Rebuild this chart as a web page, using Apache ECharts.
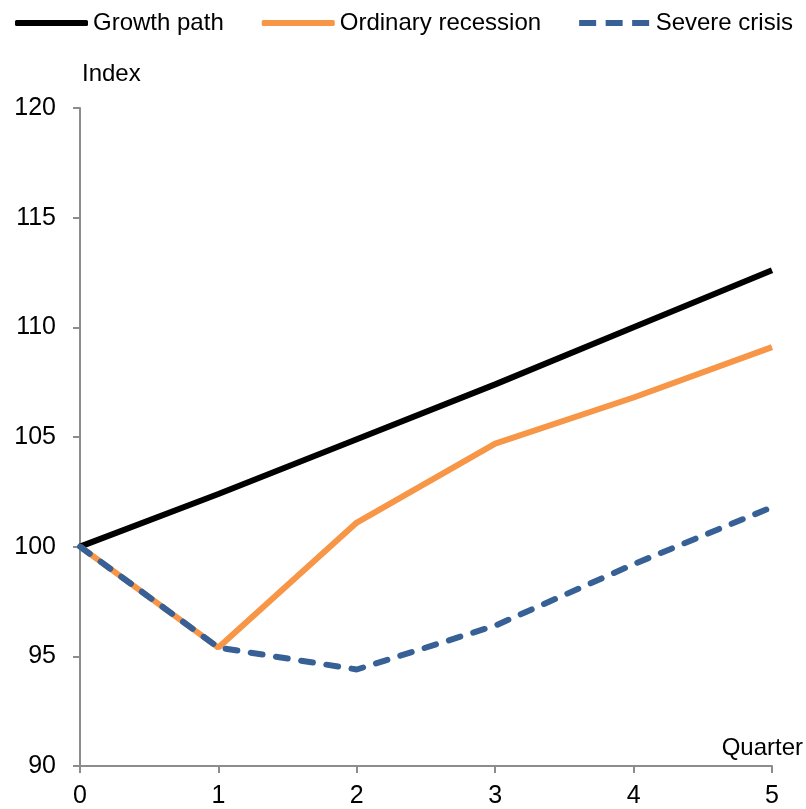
<!DOCTYPE html>
<html>
<head>
<meta charset="utf-8">
<script src="https://cdn.jsdelivr.net/npm/echarts@6/dist/echarts.min.js"></script>
<style>
  html, body { margin: 0; padding: 0; background: #fff; }
  #chart { width: 806px; height: 809px; }
</style>
</head>
<body>
<div id="chart"></div>
<script>
const quarters = [0, 1, 2, 3, 4, 5];
const growthPath = [100, 102.4, 104.9, 107.4, 110.0, 112.6];
const ordinaryRecession = [100, 95.4, 101.1, 104.7, 106.8, 109.1];
const severeCrisis = [100, 95.4, 94.4, 96.4, 99.2, 101.8];
const seriesNames = ["Growth path", "Ordinary recession", "Severe crisis"];

const font = "Liberation Sans";
const axisGray = "#8c8c8c";

function pairs(values) {
  return quarters.map((q, i) => [q, values[i]]);
}

let chart = echarts.init(document.getElementById("chart"));

//图例的图标：实线和虚线
const solidIcon = "roundRect";
const dashedIcon = "path://M0,0h17v6h-17z M26.5,0h17v6h-17z M53,0h17v6h-17z";

let option = {
  animation: false,
  legend: {
    top: 6,
    left: 10,
    itemWidth: 73,
    itemHeight: 6,
    itemGap: 38,
    textStyle: { fontFamily: font, fontSize: 24, color: "#000" },
    data: [
      { name: seriesNames[0], icon: solidIcon },
      { name: seriesNames[1], icon: solidIcon },
      { name: seriesNames[2], icon: dashedIcon },
    ],
  },
  grid: { left: 80, right: 34, top: 108, bottom: 43 },
  // axis titles
  graphic: [
    { type: "text", left: 82, top: 62, style: { text: "Index", font: "24px " + font, fill: "#000" } },
    { type: "text", right: 3, top: 736, style: { text: "Quarter", font: "24px " + font, fill: "#000" } },
  ],
  xAxis: {
    type: "value",
    min: 0,
    max: 5,
    interval: 1,
    axisLine: { show: true, lineStyle: { color: axisGray, width: 2 } },
    axisTick: { show: true, length: 7, lineStyle: { color: axisGray, width: 2 } },
    axisLabel: { fontFamily: font, fontSize: 25, color: "#000", margin: 18 },
    splitLine: { show: false },
  },
  yAxis: {
    type: "value",
    min: 90,
    max: 120,
    interval: 5,
    axisLine: { show: true, lineStyle: { color: axisGray, width: 2 } },
    axisTick: { show: true, length: 7, lineStyle: { color: axisGray, width: 2 } },
    axisLabel: { fontFamily: font, fontSize: 25, color: "#000", margin: 24 },
    splitLine: { show: false },
  },
  series: [
    {
      name: seriesNames[0],
      type: "line",
      data: pairs(growthPath),
      symbol: "none",
      lineStyle: { color: "#000000", width: 6 },
      itemStyle: { color: "#000000" },
    },
    {
      name: seriesNames[1],
      type: "line",
      data: pairs(ordinaryRecession),
      symbol: "none",
      lineStyle: { color: "#f79646", width: 6 },
      itemStyle: { color: "#f79646" },
    },
    {
      name: seriesNames[2],
      type: "line",
      data: pairs(severeCrisis),
      symbol: "none",
      lineStyle: { color: "#376196", width: 6, type: [12, 13.5], cap: "round" },
      itemStyle: { color: "#376196" },
    },
  ],
};
option && chart.setOption(option);
</script>
</body>
</html>
